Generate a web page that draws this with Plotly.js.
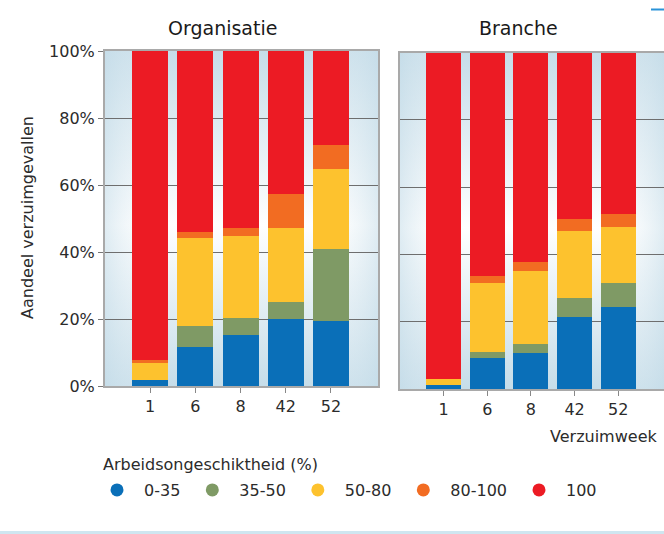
<!DOCTYPE html>
<html>
<head>
<meta charset="utf-8">
<script src="https://cdn.plot.ly/plotly-3.0.1.min.js"></script>
<style>html,body{margin:0;padding:0;background:#fff;}#chart{width:664px;height:534px;}</style>
</head>
<body>
<div id="chart"></div>
<script>
// ---- data ----
const weeks = ['1', '6', '8', '42', '52'];
const seriesNames = ['0-35', '35-50', '50-80', '80-100', '100'];
const seriesColors = ['#0a6fb8', '#7f9a65', '#fdc22e', '#f26c22', '#ec1b24'];

// Organisatie (share of cases, %)
const org_0_35   = [1.8, 11.7, 15.1, 20.0, 19.4];
const org_35_50  = [0.0, 6.3, 5.3, 5.0, 21.5];
const org_50_80  = [5.0, 26.1, 24.3, 22.3, 23.8];
const org_80_100 = [1.0, 2.0, 2.6, 10.1, 7.1];
const org_100    = [92.2, 53.9, 52.7, 42.6, 28.2];

// Branche (share of cases, %)
const br_0_35   = [1.1, 9.1, 10.6, 21.3, 24.3];
const br_35_50  = [0.0, 2.0, 2.7, 5.7, 7.1];
const br_50_80  = [1.8, 20.3, 21.8, 20.1, 16.9];
const br_80_100 = [0.2, 2.2, 2.6, 3.5, 3.8];
const br_100    = [96.9, 66.4, 62.3, 49.4, 47.9];

const yTickVals = [0, 20, 40, 60, 80, 100];
const yTickText = ['0%', '20%', '40%', '60%', '80%', '100%'];

// ---- build traces ----
const orgSeries = [org_0_35, org_35_50, org_50_80, org_80_100, org_100];
const brSeries = [br_0_35, br_35_50, br_50_80, br_80_100, br_100];

const traces = [];
orgSeries.forEach((vals, i) => {
  traces.push({type: 'bar', x: weeks, y: vals, name: seriesNames[i], xaxis: 'x', yaxis: 'y',
    width: 0.8, marker: {color: seriesColors[i], line: {width: 0}}, showlegend: false, hoverinfo: 'y'});
});
brSeries.forEach((vals, i) => {
  traces.push({type: 'bar', x: weeks, y: vals, name: seriesNames[i], xaxis: 'x2', yaxis: 'y2',
    width: 0.8, marker: {color: seriesColors[i], line: {width: 0}}, showlegend: false, hoverinfo: 'y'});
});
// legend entries (circle markers)
seriesNames.forEach((n, i) => {
  traces.push({type: 'scatter', mode: 'markers', x: [null], y: [null], name: n, xaxis: 'x', yaxis: 'y',
    marker: {color: seriesColors[i], size: 13, symbol: 'circle'}, showlegend: true, hoverinfo: 'skip'});
});

const W = 664, H = 534;
const px = v => v / W;
const py = v => (H - v) / H;

const svg = '<svg xmlns="http://www.w3.org/2000/svg" width="100" height="100" viewBox="0 0 100 100" preserveAspectRatio="none">' +
  '<defs><linearGradient id="g" x1="0" y1="0" x2="0" y2="1">' +
  '<stop offset="0" stop-color="#c6dde9"/><stop offset="0.52" stop-color="#ffffff"/><stop offset="1" stop-color="#c6dde9"/></linearGradient>' +
  '<linearGradient id="h" x1="0" y1="0" x2="1" y2="0">' +
  '<stop offset="0" stop-color="#c6dde9" stop-opacity="0.55"/><stop offset="0.22" stop-color="#ffffff" stop-opacity="0"/>' +
  '<stop offset="0.78" stop-color="#ffffff" stop-opacity="0"/><stop offset="1" stop-color="#c6dde9" stop-opacity="0.55"/></linearGradient></defs>' +
  '<rect width="100" height="100" fill="url(#g)"/><rect width="100" height="100" fill="url(#h)"/></svg>';
const grad = 'data:image/svg+xml;charset=utf-8,' + encodeURIComponent(svg);

const font = {family: 'DejaVu Sans, Verdana, sans-serif', size: 16, color: '#2b2b2b'};

const xCommon = {type: 'category', showgrid: false, zeroline: false, showline: true, linecolor: '#a9a9a9',
  linewidth: 2, mirror: true, ticks: 'outside', ticklen: 5, tickcolor: '#888', tickwidth: 1,
  tickfont: {size: 16, color: '#2b2b2b'}, fixedrange: true, automargin: false};
const yCommon = {range: [0, 100], tickvals: yTickVals, ticktext: yTickText, showgrid: true,
  gridcolor: '#6e6e6e', gridwidth: 1, zeroline: false, showline: true, linecolor: '#a9a9a9', linewidth: 2,
  mirror: true, fixedrange: true, automargin: false};

const layout = {
  width: W, height: H,
  margin: {l: 0, r: 0, t: 0, b: 0, pad: 0, autoexpand: false},
  paper_bgcolor: '#ffffff', plot_bgcolor: 'rgba(0,0,0,0)',
  font: font,
  barmode: 'stack', bargap: 0.2,
  xaxis: Object.assign({}, xCommon, {domain: [px(105), px(378)], range: [-1.0, 5.04], anchor: 'y'}),
  yaxis: Object.assign({}, yCommon, {domain: [py(386), py(51)], anchor: 'x', ticks: 'outside', ticklen: 5,
    tickcolor: '#777', tickfont: {size: 16, color: '#2b2b2b'}}),
  xaxis2: Object.assign({}, xCommon, {domain: [px(400), 1], range: [-1.0, 5.05], anchor: 'y2'}),
  yaxis2: Object.assign({}, yCommon, {domain: [py(389), py(52.7)], anchor: 'x2', showticklabels: false, ticks: ''}),
  images: [
    {source: grad, xref: 'paper', yref: 'paper', x: px(105), y: py(51), sizex: px(378) - px(105), sizey: py(51) - py(386),
      xanchor: 'left', yanchor: 'top', sizing: 'stretch', layer: 'below'},
    {source: grad, xref: 'paper', yref: 'paper', x: px(400), y: py(52.7), sizex: 1 - px(400), sizey: py(52.7) - py(389),
      xanchor: 'left', yanchor: 'top', sizing: 'stretch', layer: 'below'}
  ],
  annotations: [
    {text: 'Organisatie', xref: 'paper', yref: 'paper', x: px(222), y: py(28), xanchor: 'center', yanchor: 'middle',
      showarrow: false, font: {size: 19, color: '#1a1a1a'}},
    {text: 'Branche', xref: 'paper', yref: 'paper', x: px(518), y: py(28), xanchor: 'center', yanchor: 'middle',
      showarrow: false, font: {size: 19, color: '#1a1a1a'}},
    {text: 'Aandeel verzuimgevallen', xref: 'paper', yref: 'paper', x: px(27), y: py(218), textangle: -90,
      xanchor: 'center', yanchor: 'middle', showarrow: false, font: {size: 16, color: '#2b2b2b'}},
    {text: 'Verzuimweek', xref: 'paper', yref: 'paper', x: px(659), y: py(436), xanchor: 'right', yanchor: 'middle',
      showarrow: false, font: {size: 16, color: '#2b2b2b'}},
    {text: 'Arbeidsongeschiktheid (%)', xref: 'paper', yref: 'paper', x: px(101), y: py(464), xanchor: 'left', yanchor: 'middle',
      showarrow: false, font: {size: 16, color: '#2b2b2b'}}
  ],
  shapes: [
    {type: 'line', xref: 'paper', yref: 'paper', x0: 0, x1: 1, y0: py(532.5), y1: py(532.5),
      line: {color: '#cfe6f0', width: 3}},
    {type: 'line', xref: 'paper', yref: 'paper', x0: px(651), x1: 1, y0: py(9.5), y1: py(9.5),
      line: {color: '#2a93d8', width: 2}}
  ],
  showlegend: true,
  legend: {orientation: 'h', xref: 'container', yref: 'container', x: px(90), xanchor: 'left', y: py(490), yanchor: 'middle',
    bgcolor: 'rgba(0,0,0,0)', borderwidth: 0, traceorder: 'normal', itemwidth: 44,
    font: {size: 16, color: '#2b2b2b'},
    itemclick: false, itemdoubleclick: false}
};

Plotly.newPlot('chart', traces, layout, {staticPlot: true, displayModeBar: false});
</script>
</body>
</html>
